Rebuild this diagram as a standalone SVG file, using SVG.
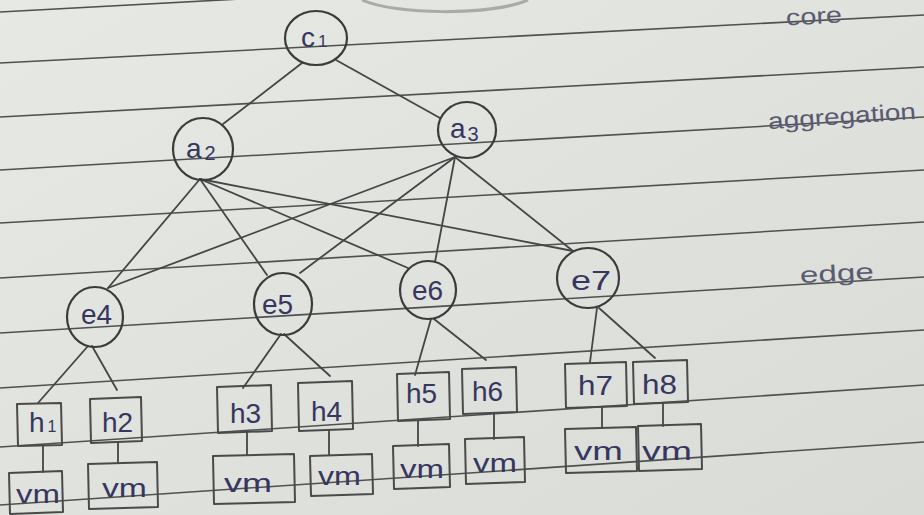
<svg xmlns="http://www.w3.org/2000/svg" width="924" height="515" viewBox="0 0 924 515">
  <defs>
    <linearGradient id="paper" x1="0" y1="0" x2="1" y2="1">
      <stop offset="0" stop-color="#e7e9e5"/>
      <stop offset="1" stop-color="#d9dbd7"/>
    </linearGradient>
    <style>
      .rule { stroke: #4f514f; stroke-width: 1.6; fill: none; }
      .hole { stroke: #a9aba8; stroke-width: 3; fill: none; }
      .link { stroke: #454545; stroke-width: 1.8; fill: none; stroke-linecap: round; }
      .node { stroke: #3b3b3b; stroke-width: 2.2; fill: none; }
      .box { stroke: #4a4a4a; stroke-width: 2; fill: none; stroke-linejoin: round; }
      .ink { fill: #37365f; font-family: "Liberation Sans", "DejaVu Sans", sans-serif; font-size: 28px; }
      .vm { font-size: 26px; }
      .note { fill: #5a5a70; font-family: "Liberation Sans", "DejaVu Sans", sans-serif; font-size: 23px; }
    </style>
  </defs>

  <!-- notebook page -->
  <g id="page">
    <rect x="0" y="0" width="924" height="515" fill="url(#paper)"/>
    <path class="hole" d="M 362 0 C 395 15, 490 16, 528 0"/>
    <path class="rule" d="M 0 12 L 924 -38"/>
    <path class="rule" d="M 0 63 L 924 15"/>
    <path class="rule" d="M 0 117 L 924 67"/>
    <path class="rule" d="M 0 170 L 924 117"/>
    <path class="rule" d="M 0 223 L 924 170"/>
    <path class="rule" d="M 0 278 L 924 222"/>
    <path class="rule" d="M 0 333 L 924 277"/>
    <path class="rule" d="M 0 388 L 924 330"/>
    <path class="rule" d="M 0 447 L 924 385"/>
    <path class="rule" d="M 0 505 L 924 442"/>
  </g>

  <!-- layer names -->
  <g id="layer-labels">
    <text class="note" x="786" y="24" textLength="56" lengthAdjust="spacingAndGlyphs" transform="rotate(-3 814 18)">core</text>
    <text class="note" x="768" y="124" textLength="148" lengthAdjust="spacingAndGlyphs" transform="rotate(-4 842 118)">aggregation</text>
    <text class="note" x="800" y="281" textLength="74" lengthAdjust="spacingAndGlyphs" transform="rotate(-3 837 275)">edge</text>
  </g>

  <!-- links -->
  <g id="connectors">
    <line class="link" x1="302" y1="63" x2="223" y2="124"/>
    <line class="link" x1="336" y1="60" x2="440" y2="118"/>

    <line class="link" x1="200" y1="179" x2="108" y2="288"/>
    <line class="link" x1="200" y1="179" x2="267" y2="275"/>
    <line class="link" x1="200" y1="179" x2="408" y2="268"/>
    <line class="link" x1="200" y1="179" x2="573" y2="251"/>
    <line class="link" x1="455" y1="157" x2="108" y2="288"/>
    <line class="link" x1="455" y1="157" x2="300" y2="273"/>
    <line class="link" x1="455" y1="157" x2="435" y2="262"/>
    <line class="link" x1="455" y1="157" x2="573" y2="251"/>

    <line class="link" x1="88" y1="346" x2="38" y2="403"/>
    <line class="link" x1="92" y1="346" x2="117" y2="390"/>
    <line class="link" x1="281" y1="334" x2="243" y2="388"/>
    <line class="link" x1="284" y1="334" x2="330" y2="376"/>
    <line class="link" x1="431" y1="319" x2="415" y2="375"/>
    <line class="link" x1="434" y1="319" x2="486" y2="360"/>
    <line class="link" x1="597" y1="308" x2="590" y2="362"/>
    <line class="link" x1="599" y1="308" x2="655" y2="358"/>

    <line class="link" x1="43" y1="445" x2="43" y2="472"/>
    <line class="link" x1="118" y1="442" x2="118" y2="463"/>
    <line class="link" x1="247" y1="432" x2="247" y2="455"/>
    <line class="link" x1="329" y1="430" x2="329" y2="455"/>
    <line class="link" x1="418" y1="420" x2="418" y2="446"/>
    <line class="link" x1="494" y1="413" x2="494" y2="439"/>
    <line class="link" x1="602" y1="407" x2="602" y2="428"/>
    <line class="link" x1="663" y1="403" x2="663" y2="426"/>
  </g>

  <!-- core switch -->
  <g id="c1">
    <ellipse class="node" cx="316" cy="38" rx="31" ry="27"/>
    <text class="ink" x="301" y="47">c<tspan font-size="17" dx="3">1</tspan></text>
  </g>

  <!-- aggregation switches -->
  <g id="a2">
    <ellipse class="node" cx="203" cy="149" rx="30" ry="31"/>
    <text class="ink" x="186" y="158">a<tspan font-size="20" dx="3" dy="2">2</tspan></text>
  </g>
  <g id="a3">
    <ellipse class="node" cx="467" cy="130" rx="29" ry="28"/>
    <text class="ink" x="450" y="138">a<tspan font-size="20" dx="2" dy="3">3</tspan></text>
  </g>

  <!-- edge switches -->
  <g id="e4">
    <ellipse class="node" cx="95" cy="317" rx="28" ry="30"/>
    <text class="ink" x="81" y="324">e4</text>
  </g>
  <g id="e5">
    <ellipse class="node" cx="283" cy="304" rx="29" ry="31"/>
    <text class="ink" x="262" y="314">e5</text>
  </g>
  <g id="e6">
    <ellipse class="node" cx="428" cy="290" rx="28" ry="29"/>
    <text class="ink" x="412" y="300">e6</text>
  </g>
  <g id="e7">
    <ellipse class="node" cx="588" cy="278" rx="31" ry="30"/>
    <text class="ink" x="571" y="290" textLength="40" lengthAdjust="spacingAndGlyphs">e7</text>
  </g>

  <!-- hosts -->
  <g id="h1">
    <path class="box" d="M 17 404 L 61 403 L 62 445 L 18 446 Z"/>
    <text class="ink" x="29" y="432" font-size="26">h<tspan font-size="16" dx="3">1</tspan></text>
  </g>
  <g id="h2">
    <path class="box" d="M 90 399 L 141 397 L 142 441 L 91 443 Z"/>
    <text class="ink" x="102" y="432" font-size="26">h2</text>
  </g>
  <g id="h3">
    <path class="box" d="M 217 387 L 271 385 L 272 431 L 218 433 Z"/>
    <text class="ink" x="230" y="423" font-size="26">h3</text>
  </g>
  <g id="h4">
    <path class="box" d="M 298 383 L 352 381 L 353 429 L 299 431 Z"/>
    <text class="ink" x="311" y="421" font-size="26">h4</text>
  </g>
  <g id="h5">
    <path class="box" d="M 397 374 L 449 372 L 450 419 L 398 421 Z"/>
    <text class="ink" x="406" y="403" font-size="26">h5</text>
  </g>
  <g id="h6">
    <path class="box" d="M 462 369 L 516 367 L 517 412 L 463 414 Z"/>
    <text class="ink" x="472" y="401" font-size="26">h6</text>
  </g>
  <g id="h7">
    <path class="box" d="M 565 364 L 626 362 L 627 406 L 566 408 Z"/>
    <text class="ink" x="578" y="395" font-size="26" textLength="35" lengthAdjust="spacingAndGlyphs">h7</text>
  </g>
  <g id="h8">
    <path class="box" d="M 633 362 L 687 360 L 688 402 L 634 404 Z"/>
    <text class="ink" x="642" y="394" font-size="26" textLength="35" lengthAdjust="spacingAndGlyphs">h8</text>
  </g>

  <!-- virtual machines -->
  <g id="vm1">
    <path class="box" d="M 9 473 L 62 471 L 63 512 L 10 514 Z"/>
    <text class="ink vm" x="16" y="503" textLength="44" lengthAdjust="spacingAndGlyphs">vm</text>
  </g>
  <g id="vm2">
    <path class="box" d="M 88 464 L 157 462 L 158 507 L 89 509 Z"/>
    <text class="ink vm" x="102" y="497" textLength="45" lengthAdjust="spacingAndGlyphs">vm</text>
  </g>
  <g id="vm3">
    <path class="box" d="M 213 456 L 294 454 L 295 502 L 214 504 Z"/>
    <text class="ink vm" x="224" y="492" textLength="48" lengthAdjust="spacingAndGlyphs">vm</text>
  </g>
  <g id="vm4">
    <path class="box" d="M 310 456 L 372 454 L 373 494 L 311 496 Z"/>
    <text class="ink vm" x="318" y="485" textLength="43" lengthAdjust="spacingAndGlyphs">vm</text>
  </g>
  <g id="vm5">
    <path class="box" d="M 393 446 L 449 444 L 450 487 L 394 489 Z"/>
    <text class="ink vm" x="400" y="478" textLength="44" lengthAdjust="spacingAndGlyphs">vm</text>
  </g>
  <g id="vm6">
    <path class="box" d="M 465 439 L 524 437 L 525 482 L 466 484 Z"/>
    <text class="ink vm" x="473" y="472" textLength="44" lengthAdjust="spacingAndGlyphs">vm</text>
  </g>
  <g id="vm7">
    <path class="box" d="M 565 429 L 636 427 L 637 471 L 566 473 Z"/>
    <text class="ink vm" x="574" y="460" textLength="49" lengthAdjust="spacingAndGlyphs">vm</text>
  </g>
  <g id="vm8">
    <path class="box" d="M 638 426 L 701 424 L 702 469 L 639 471 Z"/>
    <text class="ink vm" x="642" y="460" textLength="50" lengthAdjust="spacingAndGlyphs">vm</text>
  </g>
</svg>
